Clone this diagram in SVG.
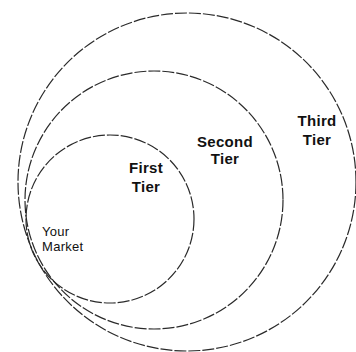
<svg xmlns="http://www.w3.org/2000/svg" width="356" height="352" viewBox="0 0 356 352">
<style>
.ring{fill:none;stroke:#2a2a2a;stroke-width:1.2;stroke-dasharray:12 2}
.lbl{font-family:"Liberation Sans",Arial,sans-serif;font-size:15px;font-weight:bold;fill:#111;text-anchor:middle;letter-spacing:0.3px}
.mkt{font-family:"Liberation Sans",Arial,sans-serif;font-size:13px;fill:#111;letter-spacing:0.3px}
</style>
<rect width="356" height="352" fill="#fff"/>
<g id="third-tier">
<circle class="ring" cx="187" cy="182" r="169"/>
<text class="lbl" x="317" y="126">Third</text>
<text class="lbl" x="317" y="145">Tier</text>
</g>
<g id="second-tier">
<circle class="ring" cx="154" cy="200" r="129"/>
<text class="lbl" x="225" y="147">Second</text>
<text class="lbl" x="225" y="164">Tier</text>
</g>
<g id="first-tier">
<circle class="ring" cx="110" cy="219" r="84"/>
<text class="lbl" x="146" y="173">First</text>
<text class="lbl" x="146" y="192">Tier</text>
</g>
<g id="your-market">
<text class="mkt" x="42" y="236">Your</text>
<text class="mkt" x="42" y="251">Market</text>
</g>
<g id="connectors"></g>
</svg>
